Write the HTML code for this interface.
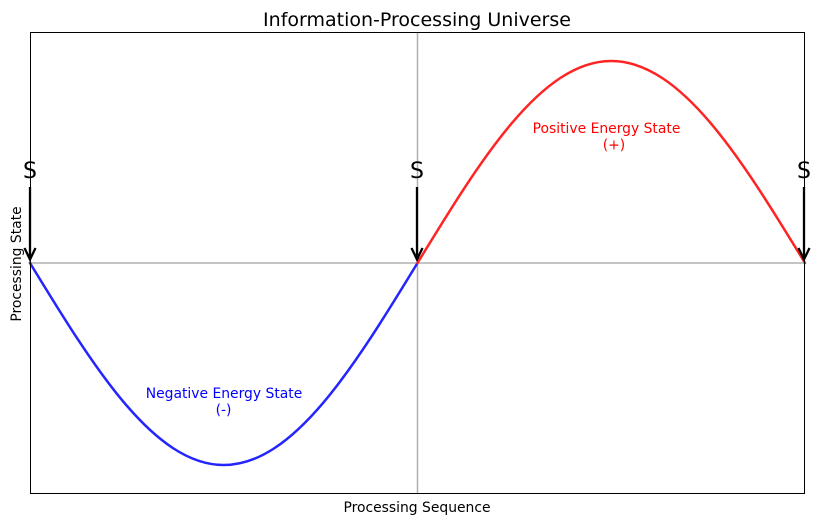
<!DOCTYPE html>
<html>
<head>
<meta charset="utf-8">
<style>
  html, body { margin: 0; padding: 0; background: #ffffff; }
  svg { display: block; }
  text { font-family: "DejaVu Sans", "Liberation Sans", sans-serif; }
</style>
</head>
<body>
<svg width="821" height="524" viewBox="0 0 821 524" xmlns="http://www.w3.org/2000/svg">
  <rect x="0" y="0" width="821" height="524" fill="#ffffff"/>

  <!-- reference lines -->
  <line x1="30" y1="263" x2="805" y2="263" stroke="#b0b0b0" stroke-width="1.5"/>
  <line x1="417.5" y1="32" x2="417.5" y2="494" stroke="#b0b0b0" stroke-width="1.5"/>

  <!-- negative half (blue) -->
  <path d="M30,263 C93.18,366.48 153.71,465 223.75,465 C293.79,465 354.32,366.48 417.5,263"
        fill="none" stroke="#2424ff" stroke-width="2.5" stroke-linecap="round"/>
  <!-- positive half (red) -->
  <path d="M417.5,263 C480.68,159.52 541.21,61 611.25,61 C681.29,61 741.82,159.52 805,263"
        fill="none" stroke="#ff2424" stroke-width="2.5" stroke-linecap="round"/>

  <!-- arrows -->
  <g stroke="#000" stroke-width="2.3" fill="none" stroke-linecap="butt">
    <line x1="30" y1="187" x2="30" y2="259"/>
    <polyline points="24.5,248 30,259.5 35.5,248"/>
    <line x1="417" y1="187" x2="417" y2="259"/>
    <polyline points="411.5,248 417,259.5 422.5,248"/>
    <line x1="804" y1="187" x2="804" y2="259"/>
    <polyline points="798.5,248 804,259.5 809.5,248"/>
  </g>

  <!-- S labels -->
  <g font-size="22" fill="#000" text-anchor="middle">
    <text x="30" y="178">S</text>
    <text x="417" y="178">S</text>
    <text x="804" y="178">S</text>
  </g>

  <!-- state annotations -->
  <g font-size="13.9" text-anchor="middle">
    <text x="606.5" y="133" fill="#ff0000">Positive Energy State</text>
    <text x="614" y="149.5" fill="#ff0000">(+)</text>
    <text x="224" y="398" fill="#0000ff">Negative Energy State</text>
    <text x="223.5" y="414.5" fill="#0000ff">(-)</text>
  </g>

  <!-- axes frame -->
  <rect x="30.5" y="32.5" width="774" height="461" fill="none" stroke="#000" stroke-width="1" shape-rendering="crispEdges"/>

  <!-- title and labels -->
  <text x="417" y="26" font-size="19" text-anchor="middle" fill="#000">Information-Processing Universe</text>
  <text x="417" y="512" font-size="13.9" text-anchor="middle" fill="#000">Processing Sequence</text>
  <text transform="translate(21,264) rotate(-90)" font-size="13.9" text-anchor="middle" fill="#000">Processing State</text>
</svg>
</body>
</html>
